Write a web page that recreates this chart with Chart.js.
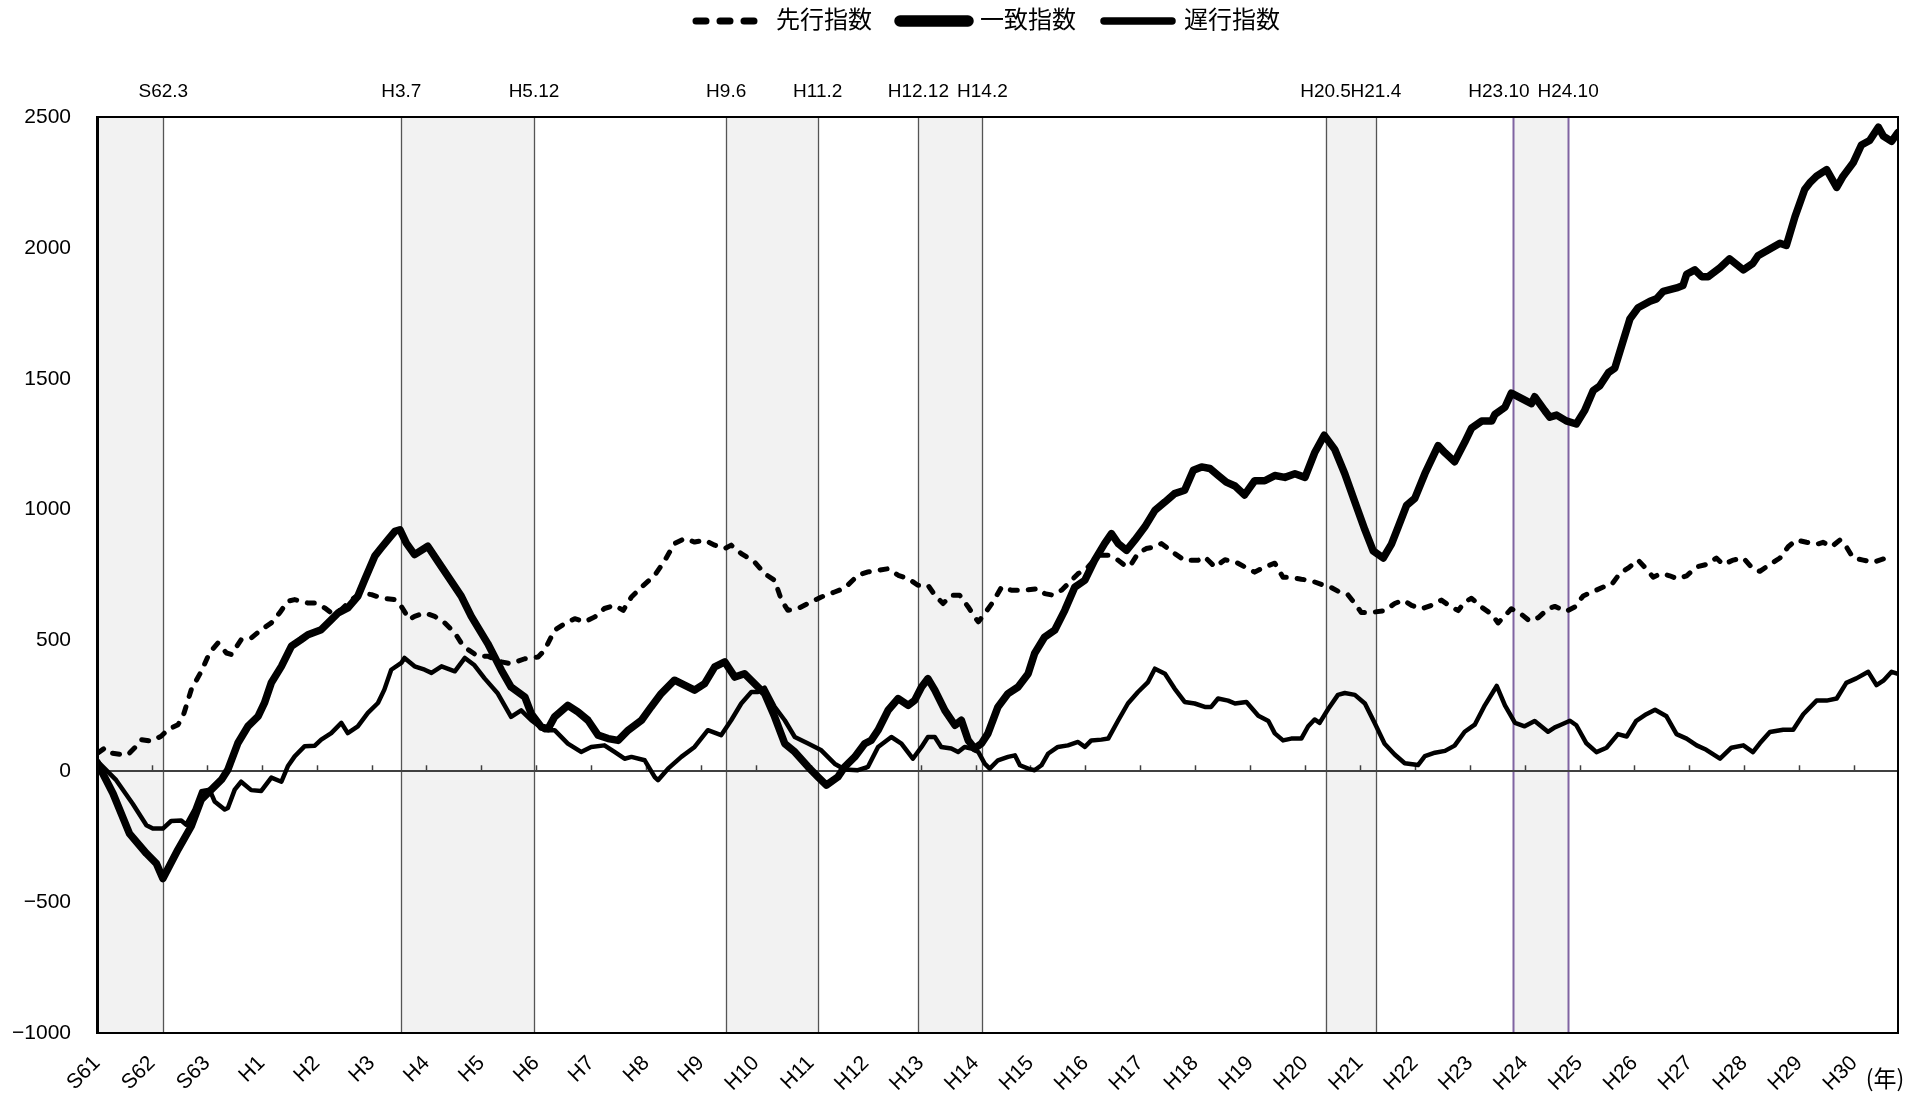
<!DOCTYPE html>
<html><head><meta charset="utf-8">
<script src="https://cdn.jsdelivr.net/npm/chart.js@4/dist/chart.umd.min.js"></script>
<style>html,body{margin:0;padding:0;background:#fff;}</style>
</head><body>
<canvas id="c" width="1932" height="1097"></canvas>
<script>
// ---- categories / tick labels ----
const yearLabels = ['S61','S62','S63','H1','H2','H3','H4','H5','H6','H7','H8','H9','H10','H11','H12','H13','H14','H15','H16','H17','H18','H19','H20','H21','H22','H23','H24','H25','H26','H27','H28','H29','H30'];
const turnLabels = ['S62.3','H3.7','H5.12','H9.6','H11.2','H12.12','H14.2','H20.5','H21.4','H23.10\u2003\u2002','H24.10'];
const turnMonths = [14,66,95,137,157,179,193,268,279,309,321];
const recessionStart = [0,66,137,179,268,309];
const recessionEnd = [14,95,157,193,279,321];

// ---- series: 先行指数 (leading) ----
const leadMonths = [0.2,1.7,3.1,5.3,6.8,8.6,9.7,11.9,14,15.5,17.7,18.8,20.6,22.8,24.6,26.4,28.3,29.4,31.5,33.7,35.9,38.1,39.9,41.7,43.2,46.1,47.6,49.8,51.2,53.4,55.6,57.8,60,62.2,65.1,66.5,68.3,69.4,71.6,73.8,76,78.2,79.6,81.1,83.3,85.4,88.4,90.5,93.5,96.4,97.8,100,102.2,104.4,106.6,108.8,110.9,113.1,115,116.8,119,121.9,124.1,126.2,128.4,130.6,132.8,135,137.2,138.6,140.8,143.7,145.9,148.1,149.6,151,153.2,155.4,158.3,161.2,163.4,166.3,168.5,170.7,172.9,175.1,177.3,179.4,181.6,183.1,184.9,186.7,188.5,190.4,191.8,192.6,194,195.8,197.7,199.8,202.8,205.7,207.1,208.9,210.8,213,214.4,216.6,218.8,221,223.2,225,226.1,227.5,229.3,231.2,232.6,234.1,235.5,237.7,240.6,242.1,244.3,246.5,248.7,250.8,253,255.2,257.4,259.2,261,263.2,265.4,267.6,269.1,271.2,273.4,274.9,276.3,278.5,281.4,283.6,285.5,287.3,289.5,291.6,293.8,296,297.5,298.9,300.4,302.6,304.8,306.2,307.7,309.1,311.3,313.1,315,317.1,318.6,321.1,323,324.8,327,329.2,331,332.8,334.6,336.8,338.6,340.1,341.9,343.7,345.5,347.4,349.6,351.7,353.9,355.4,357.6,359.8,361.9,363.4,365.6,367.8,369.6,371.4,373.6,375.8,377.2,379.1,380.9,382.3,383.8,386,388.2,389.6,391.1,391.8];
const leadValues = [70,89,70,64,64,96,121,115,134,159,178,210,312,382,452,490,452,446,503,509,541,567,605,650,656,643,643,624,605,618,656,681,675,662,656,630,580,592,605,592,567,529,490,465,439,440,418,411,430,437,462,539,564,583,571,590,622,634,615,666,704,749,806,870,889,876,883,864,851,864,832,800,755,730,653,615,622,641,666,685,700,749,762,768,774,749,736,711,711,673,641,673,673,628,590,571,602,647,704,692,692,698,679,673,692,730,755,781,825,825,806,781,794,832,851,857,870,851,832,806,806,819,781,808,801,781,761,781,795,741,741,734,728,714,708,688,674,641,607,607,614,641,654,634,621,634,654,627,614,647,661,627,600,567,594,621,600,574,587,621,630,611,628,670,687,704,713,756,776,807,773,742,756,747,735,747,781,790,815,790,807,815,773,764,790,815,858,884,875,867,875,858,884,858,815,807,798,807,815,798];

// ---- series: 一致指数 (coincident) ----
const coinMonths = [0,3.5,7.1,10.8,13,14.4,17.7,20.6,22.8,25,27.2,28.6,30.8,33,35.2,36.6,38.1,40.3,42.5,44.6,46.1,49,50.5,52.7,54.8,57,58.5,60.7,62.1,63.6,65.1,66.2,67.6,69.4,72.3,74.5,76.7,79.6,81.8,85.4,88.4,90.5,92,93.5,94.9,97.1,98.6,100,102.9,105.1,107.3,109.5,111.7,113.9,116.1,119,121.1,123.3,126.2,128.4,130.6,132.8,135,137.2,139.4,141.5,143.7,145.9,148.1,150.3,152.5,155.4,157.6,159.4,161.9,163.4,165.6,167.8,169.2,170.7,172.9,175.1,177.3,178.7,180.2,181.6,183.1,185.3,187.5,188.9,190.4,191.8,193.3,194.7,196.9,199.1,201.3,203.5,204.9,207.1,209.3,211.5,213.7,215.9,218,220.2,221.7,223.2,225,226.8,229,231.2,233.4,235.5,237.7,239.6,241.4,243.2,245,246.8,248.7,250.8,253,255.2,257.4,259.6,261.8,264,266.1,268.2,270.5,272.7,274.9,277.1,278.9,281.1,282.9,284.4,286.2,288,290.2,293.1,294.6,296.7,298.9,300.4,302.6,304.8,305.5,307.7,309.1,311.3,313.5,314.2,316.4,317.5,319,321.1,323.3,325.1,327,328.4,330.3,331.7,333.5,335,336.8,339.4,340.8,342.3,345.2,346.6,347.4,349.2,350.7,352.1,354.7,356.8,359.8,361.9,363,367.8,369.2,371.1,373.2,374.3,375.8,378,380.2,381.6,383.8,385.6,387.4,389.3,390.4,392.2,393.6];
const coinValues = [35,-85,-238,-314,-353,-410,-299,-210,-108,-70,-32,6,108,172,210,261,338,401,478,503,522,541,567,605,624,669,732,822,853,885,917,923,872,828,860,802,745,669,592,488,386,322,303,284,220,169,163,208,252,227,195,138,125,118,157,195,246,297,348,329,310,335,399,418,360,373,335,297,208,106,74,17,-22,-53,-22,17,55,106,118,157,233,278,252,271,322,354,310,233,176,195,118,87,106,144,246,297,322,373,450,513,539,615,704,730,806,870,908,870,844,883,934,997,1029,1061,1074,1150,1163,1157,1131,1105,1090,1056,1110,1110,1130,1123,1137,1123,1217,1284,1230,1137,1029,922,842,815,868,935,1016,1043,1137,1244,1217,1183,1257,1311,1338,1338,1364,1391,1445,1425,1405,1431,1378,1353,1361,1339,1327,1378,1455,1472,1523,1540,1643,1728,1771,1796,1805,1834,1847,1856,1899,1916,1890,1890,1924,1958,1916,1941,1970,2018,2009,2120,2223,2248,2274,2299,2231,2274,2325,2393,2410,2461,2427,2407,2441];

// ---- series: 遅行指数 (lagging) ----
const lagMonths = [0,4.2,7.8,10.8,12.2,14.4,16.2,18.4,19.5,21.3,22.8,24.6,25.7,27.9,28.6,30.1,31.5,33.7,35.9,38.1,40.3,41.7,43.2,45.4,47.6,49,51.2,53.4,54.8,57,59.2,61.4,62.8,64.3,66.5,67.2,69.4,71.6,73.1,75.3,78.2,80.4,82.5,84.7,87.6,90.5,92.7,94.9,97.8,100,102.9,105.8,108,110.9,113.1,115.3,116.8,119.7,121.9,122.6,124.8,127.7,130.6,133.5,136.4,138.6,140.8,143,144.5,145.9,148.1,150.3,152.5,155.4,158.3,161.2,163.4,166.3,168.5,170.7,173.6,175.8,178.3,180.2,181.6,183.1,184.5,186.7,188.2,189.6,191.1,192.6,194,195.1,196.9,199.1,200.6,201.7,203.5,204.9,206.4,207.9,210,212.2,214.4,215.9,217.3,219.5,221,223.2,225.3,227.5,229.7,231.2,233.4,235.5,237.7,239.9,242.1,243.5,245,247.2,248.7,251.2,253.8,256,257.4,259.2,261,263.2,264.7,266.1,267.2,269.1,271.2,272.7,274.9,277.1,279.2,281.4,283.6,285.8,288.7,290.2,292.4,294.6,296.7,298.9,301.1,303.3,305.9,307.7,309.9,312,314.2,317.1,318.6,319.7,321.9,323.3,325.5,327.7,329.9,332.4,334.3,336.4,338.6,340.5,343,345.2,347.4,349.6,351.7,354.7,357.2,359.8,361.9,363.4,365.6,368.5,370.7,372.9,375.8,378,380.2,382.3,384.5,387.1,388.9,390.4,392.2,393.6];
const lagValues = [40,-34,-124,-206,-219,-219,-190,-188,-204,-146,-76,-70,-115,-146,-140,-70,-40,-72,-75,-24,-40,19,57,96,98,121,146,185,146,172,223,261,312,388,414,433,401,388,376,401,382,433,405,355,297,208,233,195,157,157,106,74,93,99,74,48,55,42,-22,-34,10,55,93,157,138,195,259,303,303,320,246,195,131,106,80,29,7,4,17,93,131,106,48,93,131,131,93,87,74,93,87,74,29,10,42,55,61,23,10,4,23,68,93,99,112,93,118,121,125,195,259,303,341,392,373,316,265,259,246,246,278,270,259,265,212,192,145,118,125,125,172,198,185,239,292,299,292,259,185,105,64,31,24,58,71,78,98,151,178,252,326,252,185,172,192,151,168,176,193,176,107,73,90,142,133,193,218,235,210,142,125,99,82,48,90,99,73,107,150,159,159,218,270,270,278,338,355,380,329,346,380,372];

const xy = (ms, vs) => ms.map((m, i) => ({x: m, y: vs[i]}));

const FONT = "'Liberation Sans', 'Noto Sans CJK JP', sans-serif";
Chart.defaults.font.family = FONT;
Chart.defaults.color = '#000';

const bgPlugin = {
  id: 'bg',
  afterLayout(chart) {
    // centre the legend row over the same span as the reference
    if (chart.legend) chart.legend.left += 78;
  },
  beforeDraw(chart) {
    const {ctx, chartArea: a, scales} = chart;
    const xs = scales.x;
    ctx.save();
    ctx.fillStyle = '#fff';
    ctx.fillRect(0, 0, chart.width, chart.height);
    ctx.fillStyle = '#f2f2f2';
    recessionStart.forEach((s, i) => {
      const x0 = s === 0 ? a.left : xs.getPixelForValue(s + 0.5);
      const x1 = xs.getPixelForValue(recessionEnd[i] + 0.5);
      ctx.fillRect(x0, a.top, x1 - x0, a.bottom - a.top);
    });
    turnMonths.forEach((m) => {
      const x = Math.round(xs.getPixelForValue(m + 0.5)) + 0.5;
      const purple = (m === 309 || m === 321);
      ctx.strokeStyle = purple ? '#8064a2' : '#555';
      ctx.lineWidth = purple ? 2 : 1.3;
      ctx.beginPath(); ctx.moveTo(x, a.top); ctx.lineTo(x, a.bottom); ctx.stroke();
    });
    ctx.restore();
  },
  beforeDatasetsDraw(chart) {
    const {ctx, scales} = chart;
    const y0 = scales.y.getPixelForValue(0);
    ctx.save();
    ctx.strokeStyle = '#404040';
    ctx.lineWidth = 1.5;
    scales.x.ticks.forEach((t) => {
      if (t.value === 0) return;
      const x = Math.round(scales.x.getPixelForValue(t.value)) + 0.5;
      ctx.beginPath(); ctx.moveTo(x, y0); ctx.lineTo(x, y0 - 6); ctx.stroke();
    });
    ctx.restore();
  },
  afterDraw(chart) {
    const {ctx, chartArea: a} = chart;
    ctx.save();
    ctx.strokeStyle = '#000';
    ctx.lineWidth = 2;
    ctx.beginPath(); ctx.moveTo(a.right, a.top); ctx.lineTo(a.right, a.bottom + 1); ctx.stroke();
    ctx.fillStyle = '#000';
    ctx.font = "23px 'Noto Sans CJK JP', sans-serif";
    ctx.textAlign = 'center';
    ctx.textBaseline = 'middle';
    ctx.fillText('(年)', 1885, 1078);
    ctx.restore();
  }
};

new Chart(document.getElementById('c'), {
  type: 'line',
  data: {
    datasets: [
      {label: '先行指数', data: xy(leadMonths, leadValues), borderColor: '#000', backgroundColor: '#000', borderWidth: 5, borderDash: [7, 11], borderCapStyle: 'round', borderJoinStyle: 'round', pointRadius: 0, pointStyle: 'line', tension: 0, fill: false},
      {label: '一致指数', data: xy(coinMonths, coinValues), borderColor: '#000', backgroundColor: '#000', borderWidth: 7.5, borderCapStyle: 'round', borderJoinStyle: 'round', pointRadius: 0, pointStyle: 'line', tension: 0, fill: false},
      {label: '遅行指数', data: xy(lagMonths, lagValues), borderColor: '#000', backgroundColor: '#000', borderWidth: 4.5, borderCapStyle: 'round', borderJoinStyle: 'round', pointRadius: 0, pointStyle: 'line', tension: 0, fill: false}
    ]
  },
  options: {
    responsive: false,
    animation: false,
    events: [],
    layout: {padding: {left: 0, right: 34, top: -19, bottom: 0}},
    plugins: {
      tooltip: {enabled: false},
      legend: {
        position: 'top',
        labels: {
          usePointStyle: true,
          pointStyleWidth: 68,
          boxHeight: 20,
          padding: 28,
          font: {size: 24},
          generateLabels(chart) {
            const items = Chart.defaults.plugins.legend.labels.generateLabels(chart);
            const widths = [7, 11.5, 7.5];
            items.forEach((it, i) => {
              it.lineWidth = widths[i];
              it.lineCap = 'round';
              it.lineDash = i === 0 ? [10, 14] : [];
            });
            return items;
          }
        }
      }
    },
    scales: {
      x: {
        type: 'linear', position: 'bottom', min: 0, max: 393.6,
        afterBuildTicks(s) { s.ticks = yearLabels.map((_, i) => ({value: i * 12})); },
        afterFit(s) { s.height = 64; },
        ticks: {autoSkip: false, minRotation: 45, maxRotation: 45, padding: 18, font: {size: 21}, callback: (v, i) => yearLabels[i]},
        grid: {drawOnChartArea: false, drawTicks: false},
        border: {display: true, color: '#000', width: 2}
      },
      top: {
        type: 'linear', position: 'top', axis: 'x', min: 0, max: 393.6,
        afterBuildTicks(s) { s.ticks = turnMonths.map((m) => ({value: m + 0.5})); },
        afterFit(s) { s.height = 74; },
        ticks: {autoSkip: false, minRotation: 0, maxRotation: 0, padding: 14, font: {size: 19}, callback: (v, i) => turnLabels[i]},
        grid: {drawOnChartArea: false, drawTicks: false},
        border: {display: true, color: '#000', width: 2}
      },
      y: {
        min: -1000, max: 2500,
        afterFit(s) { s.width = 97; },
        ticks: {stepSize: 500, padding: 26, font: {size: 21}, callback: (v) => (v < 0 ? '\u2212' + Math.abs(v) : String(v))},
        grid: {color: (c) => (c.tick && c.tick.value === 0 ? '#404040' : 'rgba(0,0,0,0)'), lineWidth: 2, drawTicks: false},
        border: {display: true, color: '#000', width: 3}
      }
    }
  },
  plugins: [bgPlugin]
});
</script>
</body></html>
